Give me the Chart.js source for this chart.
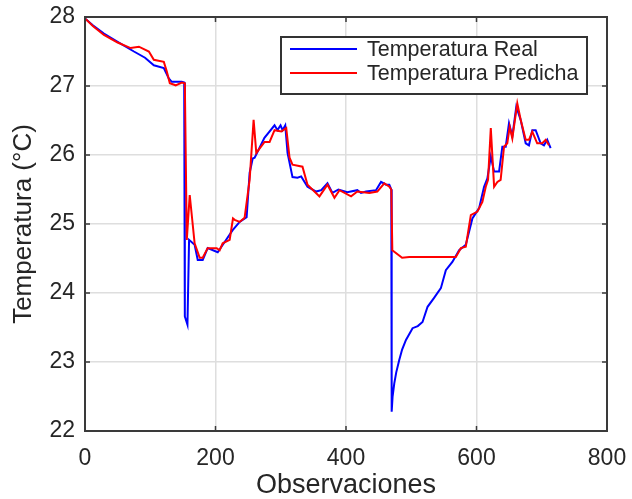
<!DOCTYPE html>
<html>
<head>
<meta charset="utf-8">
<title>Temperatura real vs predicha</title>
<script src="https://cdn.jsdelivr.net/npm/chart.js@4.4.1/dist/chart.umd.min.js"></script>
<style>
  html, body { margin: 0; padding: 0; background: #fff; }
  #wrap { width: 632px; height: 499px; position: relative; }
</style>
</head>
<body>
<div id="wrap"><canvas id="chart"></canvas></div>
<script>
const seriesNames = ['Temperatura Real', 'Temperatura Predicha'];
const seriesColors = ['rgb(0, 0, 255)', 'rgb(255, 0, 0)'];

// Temperatura Real (observacion, °C)
const realX = [0, 12, 29, 50, 75, 92, 105.5, 120.8, 128.4, 133, 148.3, 152,
  153, 157, 159.5, 168, 172.8, 180.4, 188, 203.4, 214, 226.3, 237, 247.7,
  252.3, 257, 260, 275, 290.5, 295, 299.7, 302.8, 306.9, 310.4, 318, 325.7,
  331.3, 341, 354.3, 362, 371.6, 379.2, 388.4, 402, 417.4, 423, 430.7, 446,
  453.7, 461.3, 466.4, 469.4, 470, 471.4, 474, 477, 481.6, 486, 491.9, 502,
  510, 517.3, 525, 535, 545.4, 553, 563, 573.4, 583.6, 593.7, 604, 611.6,
  616.7, 621.9, 627, 634.6, 639.6, 644.8, 649.8, 654.9, 661, 667.7, 675.4,
  680.4, 685.5, 690.7, 698.3, 703.4, 708.4, 713.6];
const realY = [27.98, 27.88, 27.76, 27.64, 27.50, 27.41, 27.30, 27.26, 27.11, 27.06, 27.06, 27.05,
  23.66, 23.54, 24.77, 24.70, 24.48, 24.48, 24.65, 24.59, 24.74, 24.91, 25.03, 25.10,
  25.74, 25.95, 25.96, 26.25, 26.43, 26.36, 26.43, 26.36, 26.43, 26.03, 25.68, 25.67,
  25.69, 25.54, 25.47, 25.49, 25.59, 25.45, 25.50, 25.46, 25.49, 25.45, 25.47, 25.49,
  25.61, 25.57, 25.57, 25.50, 22.28, 22.50, 22.69, 22.85, 23.03, 23.18, 23.32, 23.49,
  23.52, 23.58, 23.80, 23.93, 24.07, 24.33, 24.45, 24.62, 24.70, 25.08, 25.23, 25.54,
  25.66, 25.98, 25.76, 25.76, 26.12, 26.12, 26.46, 26.27, 26.70, 26.51, 26.17,
  26.14, 26.36, 26.36, 26.17, 26.14, 26.22, 26.10];

// Temperatura Predicha (observacion, °C)
const predX = [0, 12, 29, 50, 70, 82.6, 97.9, 105.5, 120.8, 125.4, 130, 139,
  148.3, 153, 156, 160.5, 168, 175.8, 180.4, 188, 201.8, 206.4, 211, 221.7,
  226.8, 229.4, 237, 244.6, 252.3, 258.4, 262.5, 275.2, 282.9, 290.5, 300.8,
  308.4, 313.5, 318, 333.3, 341, 359.3, 371.6, 382.3, 390, 407.8, 417.4,
  435.8, 448, 458.7, 466.4, 469.4, 471, 486, 497, 568.3, 576, 583.6, 591.3,
  601.4, 609, 614.2, 617.7, 621.9, 627, 632, 637, 642.2, 647.2, 650.9, 654.9,
  662.5, 667.7, 675.4, 680.4, 685.5, 693, 700.8, 706, 711];
const predY = [27.98, 27.87, 27.74, 27.63, 27.55, 27.57, 27.50, 27.38, 27.35, 27.21, 27.04, 27.01,
  27.05, 27.04, 24.77, 25.42, 24.72, 24.51, 24.51, 24.65, 24.65, 24.62, 24.72, 24.77,
  25.08, 25.06, 25.03, 25.09, 25.64, 26.51, 26.03, 26.19, 26.19, 26.36, 26.34,
  26.39, 25.96, 25.86, 25.83, 25.57, 25.40, 25.57, 25.38, 25.49, 25.40, 25.47,
  25.45, 25.47, 25.59, 25.54, 25.50, 24.62, 24.51, 24.52, 24.52, 24.65, 24.67, 25.13,
  25.18, 25.32, 25.54, 25.64, 26.39, 25.54, 25.61, 25.64, 26.12, 26.17, 26.41, 26.24,
  26.75, 26.51, 26.22, 26.22, 26.34, 26.17, 26.17, 26.22, 26.14];

const xTicks = [0, 200, 400, 600, 800];
const yTicks = [22, 23, 24, 25, 26, 27, 28];

const axisColor = '#262626';
const fontFamily = '"Liberation Sans", Arial, Helvetica, sans-serif';

function toPoints(xs, ys) {
    return xs.map((x, i) => ({ x: x, y: ys[i] }));
}

// frame round the axes with inward tick marks (matlab style box)
const axesBox = {
    id: 'axesBox',
    afterDatasetsDraw(chart) {
        const { ctx, chartArea: a, scales } = chart;
        const tick = 5;
        ctx.save();
        ctx.strokeStyle = '#3a3a3a';
        ctx.lineWidth = 1.5;
        ctx.beginPath();
        xTicks.forEach(v => {
            const px = scales.x.getPixelForValue(v);
            ctx.moveTo(px, a.bottom); ctx.lineTo(px, a.bottom - tick);
            ctx.moveTo(px, a.top); ctx.lineTo(px, a.top + tick);
        });
        yTicks.forEach(v => {
            const py = scales.y.getPixelForValue(v);
            ctx.moveTo(a.left, py); ctx.lineTo(a.left + tick, py);
            ctx.moveTo(a.right, py); ctx.lineTo(a.right - tick, py);
        });
        ctx.stroke();
        ctx.lineWidth = 2;
        ctx.strokeRect(a.left, a.top, a.right - a.left, a.bottom - a.top);
        ctx.restore();
    }
};

// legend drawn inside the axes, top right, with a box
const boxLegend = {
    id: 'boxLegend',
    afterDraw(chart) {
        const { ctx, chartArea: a } = chart;
        const w = 306, h = 57;
        const x0 = a.right - 20 - w;
        const y0 = a.top + 20;
        ctx.save();
        ctx.fillStyle = '#fff';
        ctx.fillRect(x0, y0, w, h);
        ctx.strokeStyle = '#333';
        ctx.lineWidth = 2;
        ctx.strokeRect(x0, y0, w, h);
        ctx.font = '21.5px ' + fontFamily;
        ctx.textBaseline = 'middle';
        ctx.textAlign = 'left';
        seriesNames.forEach((name, i) => {
            const cy = y0 + 12 + i * 24;
            ctx.strokeStyle = seriesColors[i];
            ctx.lineWidth = 2;
            ctx.beginPath();
            ctx.moveTo(x0 + 9, cy);
            ctx.lineTo(x0 + 76, cy);
            ctx.stroke();
            ctx.fillStyle = axisColor;
            ctx.fillText(name, x0 + 86, cy + 1);
        });
        ctx.restore();
    }
};

const tempChart = new Chart(document.getElementById('chart'), {
    type: 'line',
    data: {
        datasets: [{
            label: seriesNames[0],
            data: toPoints(realX, realY),
            borderColor: seriesColors[0],
            backgroundColor: seriesColors[0],
            borderWidth: 2,
            pointRadius: 0,
            tension: 0,
            order: 2
        }, {
            label: seriesNames[1],
            data: toPoints(predX, predY),
            borderColor: seriesColors[1],
            backgroundColor: seriesColors[1],
            borderWidth: 2,
            pointRadius: 0,
            tension: 0,
            order: 1
        }]
    },
    options: {
        responsive: true,
        maintainAspectRatio: false,
        animation: false,
        layout: { padding: { top: 17, right: 25, left: 0, bottom: 0 } },
        plugins: {
            legend: { display: false },
            tooltip: { enabled: false }
        },
        scales: {
            x: {
                type: 'linear',
                min: xTicks[0],
                max: xTicks[xTicks.length - 1],
                afterBuildTicks: (s) => { s.ticks = xTicks.map(v => ({ value: v })); },
                afterFit: (s) => {
                    s.height = 68;
                    s.paddingLeft = 0;
                    s.paddingRight = 0;
                },
                grid: { color: '#dedede', lineWidth: 1.5, drawTicks: false },
                border: { display: false },
                ticks: {
                    padding: 14,
                    color: axisColor,
                    font: { family: fontFamily, size: 23 }
                },
                title: {
                    display: true,
                    text: 'Observaciones',
                    color: axisColor,
                    font: { family: fontFamily, size: 27, lineHeight: 1 },
                    padding: { top: 0, bottom: 0 }
                }
            },
            y: {
                type: 'linear',
                min: yTicks[0],
                max: yTicks[yTicks.length - 1],
                afterBuildTicks: (s) => { s.ticks = yTicks.map(v => ({ value: v })); },
                afterFit: (s) => {
                    s.width = 85;
                    s.paddingTop = 0;
                    s.paddingBottom = 0;
                },
                grid: { color: '#dedede', lineWidth: 1.5, drawTicks: false },
                border: { display: false },
                ticks: {
                    padding: 10,
                    color: axisColor,
                    font: { family: fontFamily, size: 23 }
                },
                title: {
                    display: true,
                    text: 'Temperatura (°C)',
                    color: axisColor,
                    font: { family: fontFamily, size: 26, lineHeight: 1 },
                    padding: { top: 11, bottom: 0 }
                }
            }
        }
    },
    plugins: [axesBox, boxLegend]
});
</script>
</body>
</html>
